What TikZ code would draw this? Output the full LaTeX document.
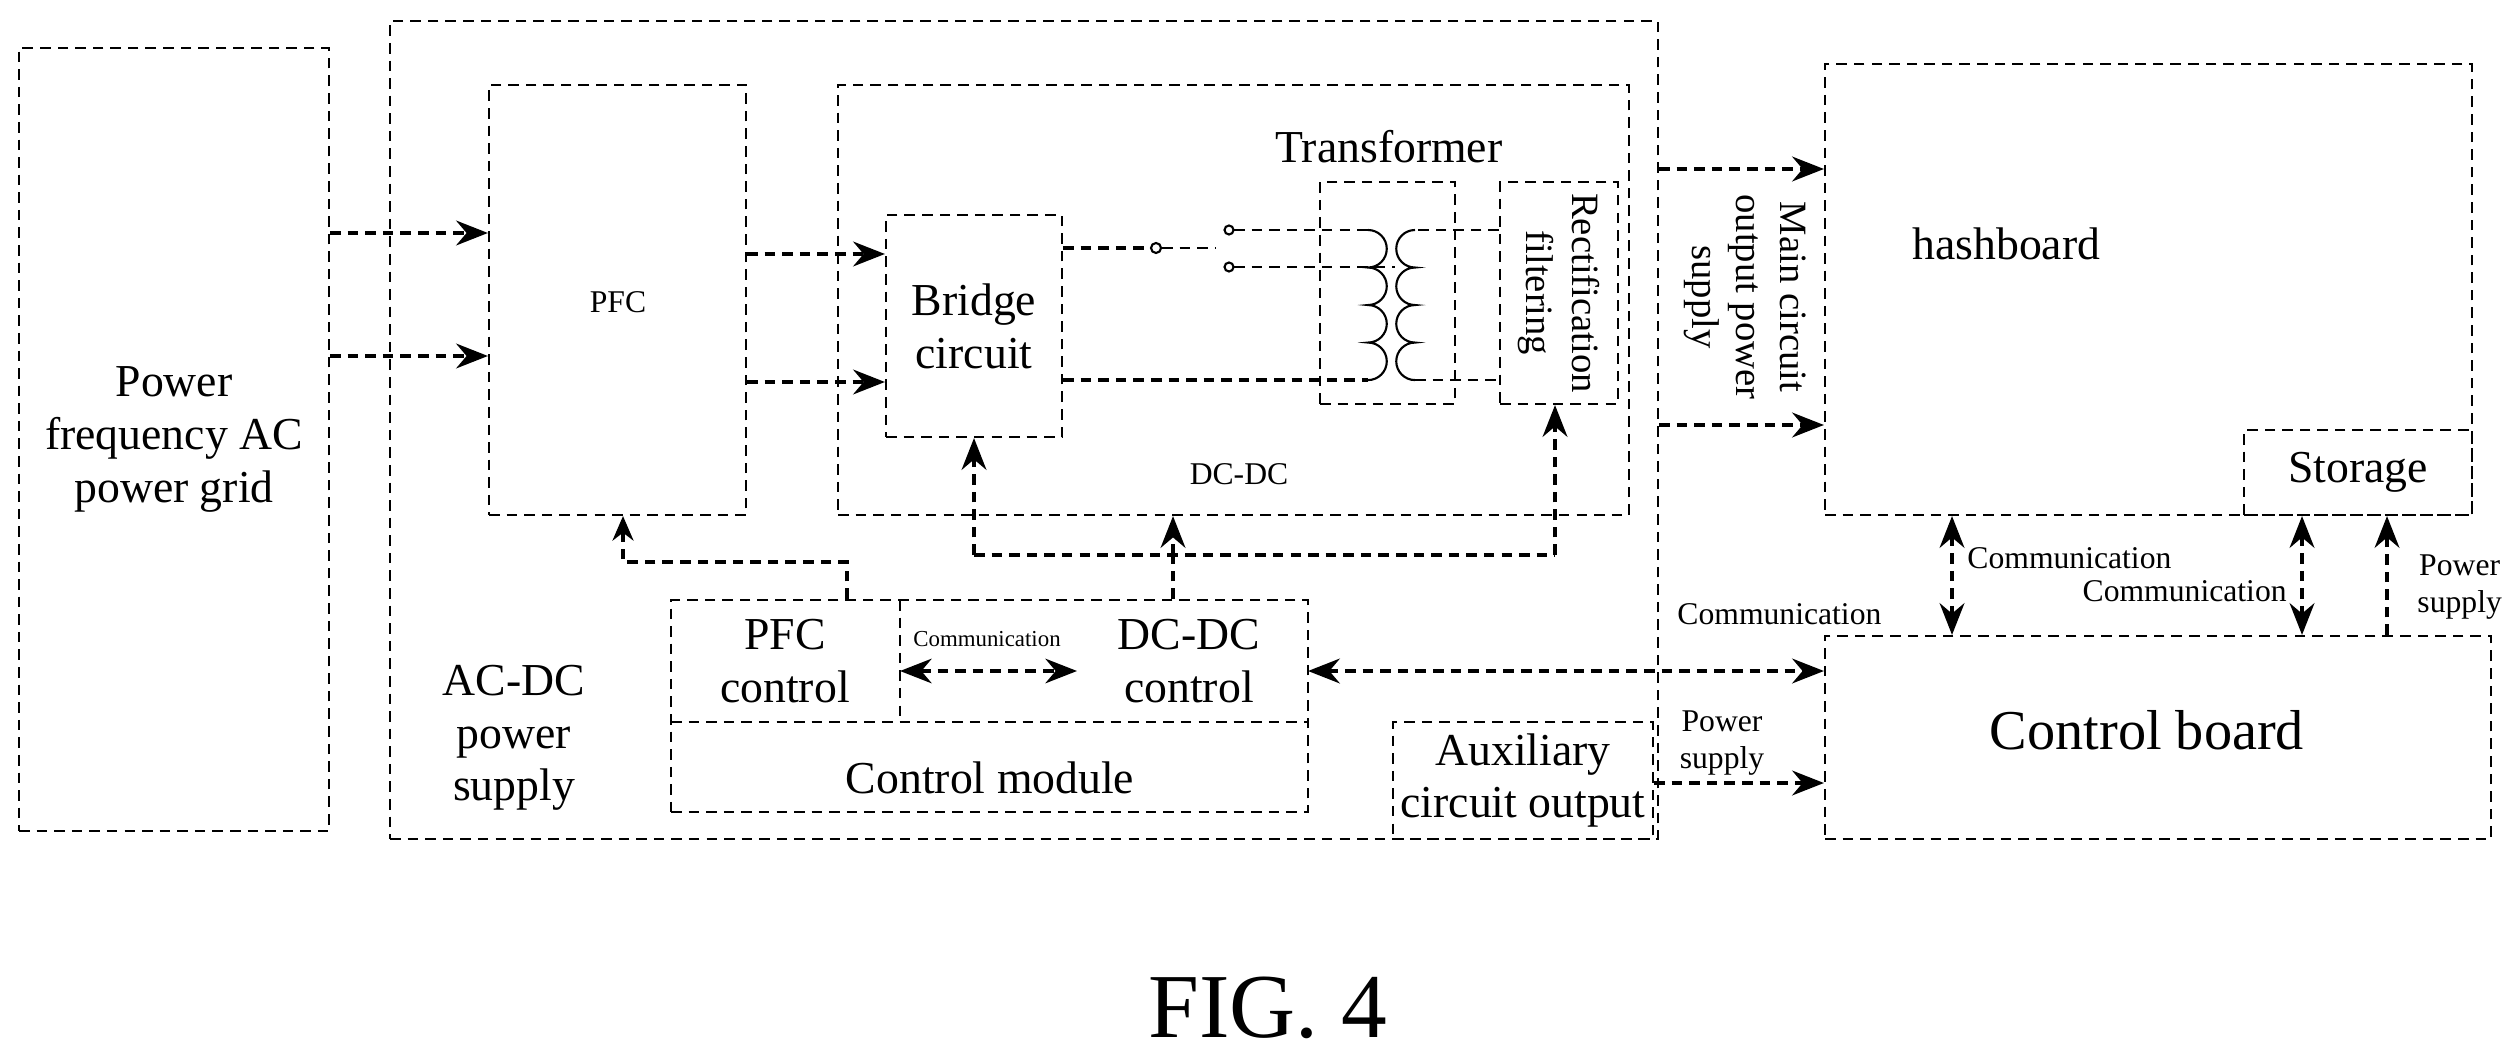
\documentclass[tikz,border=0pt]{standalone}
\usepackage{fontspec}
\setmainfont{Liberation Serif}
\usetikzlibrary{fit,arrows.meta,calc}
\begin{document}
\begin{tikzpicture}[x=0.01cm,y=-0.01cm,
 box/.style={draw,densely dashed,line width=0.6pt,inner sep=0pt},
 arr/.style={densely dashed,line width=1.3pt,-{Stealth[length=9pt,width=7pt]}},
 darr/.style={densely dashed,line width=1.3pt,{Stealth[length=9pt,width=7pt]}-{Stealth[length=9pt,width=7pt]}},
 ln/.style={densely dashed,line width=1.3pt},
 thin/.style={densely dashed,line width=0.6pt},
 txt/.style={font=\fontsize{13}{15}\selectfont,align=center},
 sm/.style={font=\fontsize{9}{10.5}\selectfont,align=center},
 tiny/.style={font=\fontsize{6.5}{7}\selectfont}]
\useasboundingbox (0,0) rectangle (2516,1058);
\node[box,fit={(19,48)(329,831)}] (grid) {};
\node[txt] (gridt) at (grid.center) {Power\\frequency AC\\power grid};
\node[box,fit={(390,21)(1658,839)}] (acdc) {};
\node[txt,anchor=center] (acdct) at (514,738) {AC-DC\\power\\supply};
\node[box,fit={(489,85)(746,515)}] (pfc) {};
\node[sm] (pfct) at (618,302) {PFC};
\node[box,fit={(838,85)(1629,515)}] (dcdc) {};
\node[sm] (dcdct) at (1239,474) {DC-DC};
\node[box,fit={(886,215)(1062,437)}] (bridge) {};
\node[txt] (bridget) at (bridge.center) {Bridge\\circuit};
\node[box,fit={(1320,182)(1455,404)}] (trans) {};
\node[txt] (transt) at (1389,147) {Transformer};
\node[box,fit={(1500,182)(1618,404)}] (rect) {};
\node[font=\fontsize{11}{13}\selectfont,align=center,rotate=-90] (rectt) at (rect.center) {Rectification\\filtering};
% control module
\node[box,fit={(671,600)(1308,812)}] (cm) {};
\node[txt] (cmt) at (990,778) {Control module};
\coordinate (pfcc) at (785,661);
\node[txt] (pfcct) at (pfcc) {PFC\\control};
\draw[line width=0.6pt,densely dashed] (900,600) -- (900,722);
\node[txt] (dccct) at (1189,661) {DC-DC\\control};
\draw[line width=0.6pt,densely dashed] (671,722) -- (1308,722);
\node[box,fit={(1393,722)(1653,839)}] (aux) {};
\node[txt] (auxt) at (aux.center) {Auxiliary\\circuit output};
% right side
\node[box,fit={(1825,64)(2472,515)}] (hash) {};
\node[txt,anchor=west] (hasht) at (1900,244) {hashboard};
\node[box,fit={(2244,430)(2472,515)}] (stor) {};
\node[txt] (stort) at (stor.center) {Storage};
\node[box,fit={(1825,636)(2491,839)}] (cb) {};
\node[font=\fontsize{16}{18}\selectfont] (cbt) at (2147,730) {Control board};
\node[font=\fontsize{26}{28}\selectfont] (fig) at (1268,1008) {FIG. 4};
% arrows grid->pfc
\draw[arr] (grid.east |- 0,233) -- (pfc.west |- 0,233);
\draw[arr] (grid.east |- 0,356) -- (pfc.west |- 0,356);
\draw[arr] (pfc.east |- 0,254) -- (bridge.west |- 0,254);
\draw[arr] (pfc.east |- 0,382) -- (bridge.west |- 0,382);
% bridge outputs and transformer
\coordinate (t1) at (1229,230);
\coordinate (t2) at (1229,267);
\draw[ln] (bridge.east |- 0,248) -- (1150,248);
\draw[line width=0.6pt] (1156,248) circle (0.05cm);
\draw[thin] (1162,248) -- (1215,248);
\draw[line width=0.6pt] (t1) circle (0.045cm) (t2) circle (0.045cm);
\draw[thin] (1234,230) -- (1368,230);
\draw[line width=0.6pt] (1368,230)
  arc[start angle=90,end angle=-90,radius=0.1875cm]
  arc[start angle=90,end angle=-90,radius=0.1875cm]
  arc[start angle=90,end angle=-90,radius=0.1875cm]
  arc[start angle=90,end angle=-90,radius=0.1875cm];
\draw[ln] (bridge.east |- 0,380) -- (1368,380);
\draw[thin] (1234,267) -- (1395,267);
\draw[thin] (rect.west |- 0,230) -- (1415,230);
\draw[line width=0.6pt] (1415,230)
  arc[start angle=90,end angle=270,radius=0.1875cm]
  arc[start angle=90,end angle=270,radius=0.1875cm]
  arc[start angle=90,end angle=270,radius=0.1875cm]
  arc[start angle=90,end angle=270,radius=0.1875cm];
\draw[thin] (1415,380) -- (rect.west |- 0,380);
% control bus
\coordinate (b1) at (974,555);
\coordinate (b2) at (1173,555);
\coordinate (b3) at (1555,555);
\draw[ln] (b1) -- (b3);
\draw[arr] (b1) -- (bridge.south -| b1);
\draw[arr] (b3) -- (rect.south -| b3);
\draw[arr] (b2) -- (dcdc.south -| b2);
\draw[ln] (cm.north -| b2) -- (b2);
\coordinate (p1) at (847,562);
\coordinate (p2) at (623,562);
\draw[densely dashed,line width=0.9pt,-{Stealth[length=7pt,width=6pt]}] (cm.north -| p1) -- (p1) -- (p2) -- (pfc.south -| p2);
% communication inside
\draw[darr,line width=1pt] (900,671) -- (1077,671);
\node[tiny] (c0) at (987,639) {Communication};
\draw[darr] (1308,671) -- (cb.west |- 0,671);
\node[sm,anchor=west] (c1) at (1665,614) {Communication};
% main output
\draw[arr] (acdc.east |- 0,169) -- (hash.west |- 0,169);
\draw[arr] (acdc.east |- 0,425) -- (hash.west |- 0,425);
\node[font=\fontsize{11}{12.5}\selectfont,align=center,rotate=-90] (mt) at (1745,297) {Main circuit\\output power\\supply};
\draw[arr] (aux.east |- 0,783) -- (cb.west |- 0,783);
\node[sm] (ps1) at (1722,743) {Power\\supply};
% vertical arrows
\draw[darr] (hash.south -| 1952,0) -- (cb.north -| 1952,0);
\node[sm,anchor=west] (c2) at (1955,558) {Communication};
\draw[darr] (hash.south -| 2302,0) -- (cb.north -| 2302,0);
\node[sm,anchor=east] (c3) at (2299,591) {Communication};
\draw[arr] (cb.north -| 2387,0) -- (hash.south -| 2387,0);
\node[sm,anchor=west] (ps2) at (2405,587) {Power\\supply};
\end{tikzpicture}
\end{document}
